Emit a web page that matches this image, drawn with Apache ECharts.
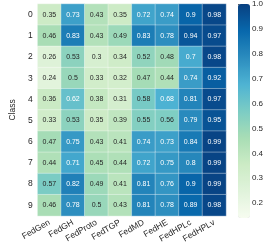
<!DOCTYPE html>
<html><head><meta charset="utf-8">
<script src="https://cdn.jsdelivr.net/npm/echarts@6/dist/echarts.min.js"></script>
<style>html,body{margin:0;padding:0;background:#fff}#c{width:266px;height:245px}</style>
</head><body><div id="c"></div>
<script>
const methods = ['FedGen','FedGH','FedProto','FedTGP','FedMD','FedHE','FedHPLc','FedHPLv'];
const classes = ['0','1','2','3','4','5','6','7','8','9'];
const class0 = [0.35,0.73,0.43,0.35,0.72,0.74,0.9,0.98];
const class1 = [0.46,0.83,0.43,0.49,0.83,0.78,0.94,0.97];
const class2 = [0.26,0.53,0.3,0.34,0.52,0.48,0.7,0.98];
const class3 = [0.24,0.5,0.33,0.32,0.47,0.44,0.74,0.92];
const class4 = [0.36,0.62,0.38,0.31,0.58,0.68,0.81,0.97];
const class5 = [0.33,0.53,0.35,0.39,0.55,0.56,0.79,0.95];
const class6 = [0.47,0.75,0.43,0.41,0.74,0.73,0.84,0.99];
const class7 = [0.44,0.71,0.45,0.44,0.72,0.75,0.8,0.99];
const class8 = [0.57,0.82,0.49,0.41,0.81,0.76,0.9,0.99];
const class9 = [0.46,0.78,0.5,0.43,0.81,0.78,0.89,0.98];
const colorbarTicks = [0.2,0.3,0.4,0.5,0.6,0.7,0.8,0.9,1.0];
const vmin = 0.14, vmax = 1.0;

const rows = [class0,class1,class2,class3,class4,class5,class6,class7,class8,class9];
const gnbu = ['#f7fcf0','#e0f3db','#ccebc5','#a8ddb5','#7bccc4','#4eb3d3','#2b8cbe','#0868ac','#084081'];
const data = [];
rows.forEach((r, yi) => r.forEach((v, xi) => {
  data.push({value:[xi, yi, v], label:{color: v >= 0.6 ? '#ffffff' : '#262626'}});
}));
const font = 'Liberation Sans, Arial, sans-serif';
const chart = echarts.init(document.getElementById('c'), null, {renderer:'canvas'});
chart.setOption({
  animation:false,
  textStyle:{fontFamily:font},
  grid:[
    {left:19, right:40, top:4, bottom:28, containLabel:false},
    {left:238, width:12, top:4, height:214}
  ],
  xAxis:[
    {type:'category', data:methods, gridIndex:0,
     axisLine:{show:false}, axisTick:{show:false}, splitLine:{show:false},
     axisLabel:{rotate:30, fontSize:8.5, color:'#262626', margin:6, fontFamily:font, interval:0}},
    {type:'value', gridIndex:1, show:false}
  ],
  yAxis:[
    {type:'category', data:classes, gridIndex:0, inverse:true,
     name:'Class', nameLocation:'middle', nameGap:20, nameRotate:90,
     nameTextStyle:{fontSize:8.5, color:'#262626', fontFamily:font},
     axisLine:{show:false}, axisTick:{show:false}, splitLine:{show:false},
     axisLabel:{fontSize:8.5, color:'#262626', margin:5, fontFamily:font}},
    {type:'value', gridIndex:1, position:'right', min:vmin, max:vmax,
     axisLine:{show:false}, splitLine:{show:false},
     axisTick:{show:true, length:3, lineStyle:{color:'#262626', width:0.8}, customValues:colorbarTicks},
     axisLabel:{fontSize:8, color:'#262626', margin:2, fontFamily:font, customValues:colorbarTicks,
       formatter:(v)=>Number(v).toFixed(1)}}
  ],
  visualMap:{
    type:'continuous', min:vmin, max:vmax, dimension:2, seriesIndex:0,
    show:true, calculable:false, hoverLink:false, realtime:false,
    orient:'vertical', left:238, top:4, padding:0, itemWidth:12, itemHeight:214,
    text:null, showLabel:false,
    inRange:{color:gnbu}
  },
  series:[{
    type:'heatmap', xAxisIndex:0, yAxisIndex:0, data:data,
    itemStyle:{borderColor:'rgba(255,255,255,0.6)', borderWidth:0.6},
    label:{show:true, fontSize:7, fontFamily:font, formatter:(p)=>String(p.value[2])},
    emphasis:{disabled:true}
  }]
});
</script></body></html>
